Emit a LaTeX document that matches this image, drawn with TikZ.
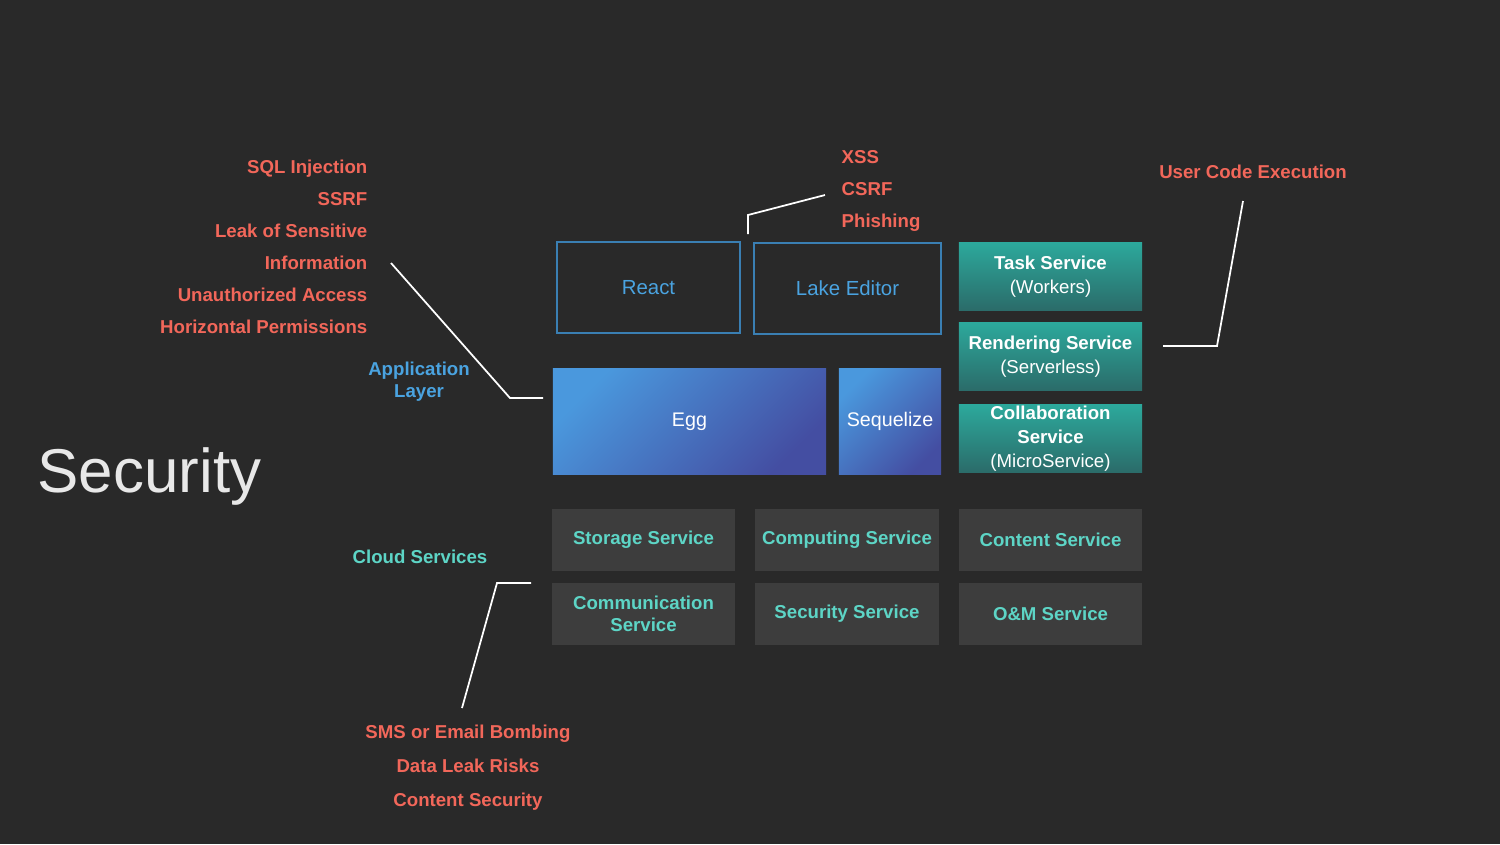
\documentclass[tikz,border=0pt]{standalone}
\usepackage{fontspec}
\setmainfont{Liberation Sans}
\usetikzlibrary{positioning}
\definecolor{bg}{HTML}{292929}
\definecolor{risk}{HTML}{F2675A}
\definecolor{layerblue}{HTML}{4AA3E0}
\definecolor{cloudteal}{HTML}{5DD5C6}
\definecolor{cloudgrey}{HTML}{3D3D3D}
\definecolor{edgeblue}{HTML}{3A7FB3}
\definecolor{tealtop}{HTML}{2CA99C}
\definecolor{tealbot}{HTML}{2B6B69}
\definecolor{eggA}{HTML}{4A98DD}
\definecolor{eggB}{HTML}{444EA2}
\definecolor{titlegrey}{HTML}{E8E8E8}
\tikzset{
  box_node/.style = {rectangle, align=center, inner sep=0pt, text centered},
  front_node/.style = {box_node, draw=edgeblue, line width=0.35pt, text=layerblue,
    font=\fontsize{5.8}{7}\selectfont},% React, Lake Editor
  server_node/.style = {box_node, text=white, top color=eggA, bottom color=eggB,
    shading angle=45, font=\fontsize{5.6}{7}\selectfont},% Egg, Sequelize
  func_node/.style = {box_node, text=white, top color=tealtop, bottom color=tealbot,
    minimum width=1.83cm, minimum height=0.685cm,
    font=\fontsize{5.3}{6.8}\selectfont},% teal services
  cloud_node/.style = {box_node, fill=cloudgrey, text=cloudteal,
    minimum width=1.835cm, minimum height=0.62cm,
    font=\bfseries\fontsize{5.3}{6.3}\selectfont},% cloud services
  risk_label/.style = {align=right, inner sep=0pt, text=risk,
    font=\bfseries\fontsize{5.3}{9.1}\selectfont},
  layer_label/.style = {align=center, inner sep=0pt,
    font=\bfseries\fontsize{5.3}{6.3}\selectfont},
  link/.style = {draw=white, line width=0.5pt}
}
\begin{document}
\begin{tikzpicture}[x=0.01cm, y=-0.01cm]
  \fill[bg] (0,0) rectangle (1500,844);
  \useasboundingbox (0,0) rectangle (1500,844);

  % title
  \node [anchor=base west, inner sep=0pt, text=titlegrey,
    font=\fontsize{17.6}{20}\selectfont] (title) at (37,492) {Security};

  % application layer
  \node [front_node, minimum width=1.83cm, minimum height=0.91cm] (react) at (648.5,287.5) {React};
  \node [front_node, minimum width=1.87cm, minimum height=0.91cm] (lake) at (847.5,288.5) {Lake Editor};
  \node [server_node, minimum width=2.73cm, minimum height=1.06cm] (egg) at (689.5,421.5) {Egg};
  \node [server_node, minimum width=1.02cm, minimum height=1.06cm] (sequelize) at (890,421.5) {Sequelize};

  \node [func_node] (task) at (1050.5,276.5) {\textbf{Task Service}\\(Workers)};
  \node [func_node] (render) at (1050.5,356.5) {\textbf{Rendering Service}\\(Serverless)};
  \node [func_node] (collab) at (1050.5,438.5) {\textbf{Collaboration}\\\textbf{Service}\\(MicroService)};

  % cloud services
  \node [cloud_node] (storage) at (643.5,540) {Storage Service};
  \node [cloud_node] (computing) at (847,540) {Computing Service};
  \node [cloud_node] (content) at (1050.5,540) {Content Service};
  \node [cloud_node] (comm) at (643.5,614) {Communication\\Service};
  \node [cloud_node] (secsvc) at (847,614) {Security Service};
  \node [cloud_node] (om) at (1050.5,614) {O\&M Service};

  % layer labels
  \node [layer_label, text=layerblue] (app_label) at (419,381.5) {Application\\Layer};
  \node [layer_label, text=cloudteal] (cloud_label) at (420,557) {Cloud Services};

  % risks
  \node [risk_label, anchor=east] (server_risks) at (368,247)
    {SQL Injection\\SSRF\\Leak of Sensitive\\Information\\Unauthorized Access\\Horizontal Permissions};
  \node [risk_label, align=left, anchor=west] (front_risks) at (841,191) {XSS\\CSRF\\Phishing};
  \node [risk_label] (func_risks) at (1253,172) {User Code Execution};
  \node [risk_label, align=center, font=\bfseries\fontsize{5.3}{9.7}\selectfont]
    (cloud_risks) at (468,767.5) {SMS or Email Bombing\\Data Leak Risks\\Content Security};

  % connectors
  \coordinate (server_tip) at (391,263);
  \coordinate (server_bend) at (510,398);
  \coordinate (server_end) at (543,398);
  \draw [link] (server_tip) -- (server_bend) -- (server_end);

  \coordinate (front_tip) at (825,195);
  \coordinate (front_bend) at (748,215);
  \coordinate (front_end) at (748,234);
  \draw [link] (front_tip) -- (front_bend) -- (front_end);

  \coordinate (func_tip) at (1243,201);
  \coordinate (func_bend) at (1217,346);
  \coordinate (func_end) at (1163,346);
  \draw [link] (func_tip) -- (func_bend) -- (func_end);

  \coordinate (cloud_tip) at (462,708);
  \coordinate (cloud_bend) at (497,583);
  \coordinate (cloud_end) at (531,583);
  \draw [link] (cloud_tip) -- (cloud_bend) -- (cloud_end);
\end{tikzpicture}
\end{document}
